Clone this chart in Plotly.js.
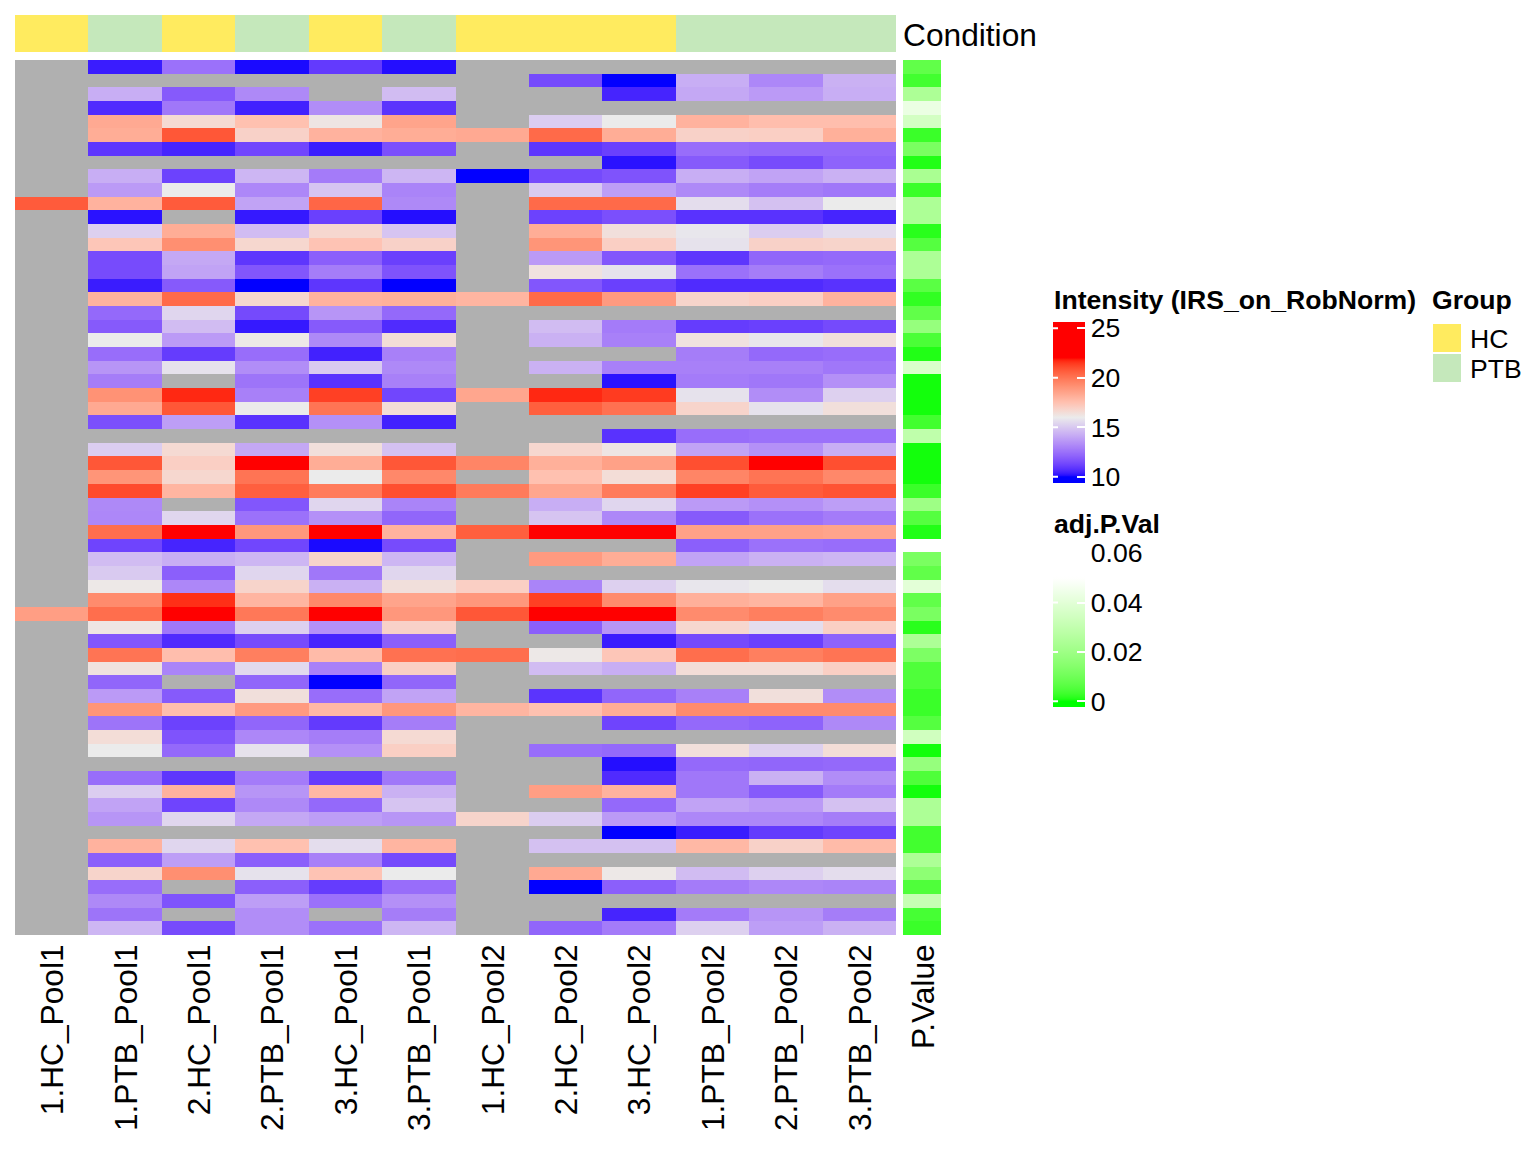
<!DOCTYPE html>
<html>
<head>
<meta charset="utf-8">
<script src="https://cdn.plot.ly/plotly-3.0.1.min.js"></script>
<style>html,body{margin:0;padding:0;background:#fff}</style>
</head>
<body>
<div id="chart" style="width:1536px;height:1152px"></div>
<script>
const N = null;
const samples = ['1.HC_Pool1','1.PTB_Pool1','2.HC_Pool1','2.PTB_Pool1','3.HC_Pool1','3.PTB_Pool1','1.HC_Pool2','2.HC_Pool2','3.HC_Pool2','1.PTB_Pool2','2.PTB_Pool2','3.PTB_Pool2'];
const groupCodes = [0,1,0,1,0,1,0,0,0,1,1,1];
const groupNames = ['HC','PTB'];
const groupColors = ['#FFEB5F','#C5E8BB'];
const intensity = [
[N,10.35,12.5,10.1,11,10.15,N,N,N,N,N,N],
[N,N,N,N,N,N,N,11.4,10,14.25,13.15,14.35],
[N,14.25,11.85,13.2,N,14.65,N,N,10.5,14.1,13.7,14.25],
[N,10.65,12.7,10.45,13.3,10.85,N,N,N,N,N,N],
[N,18.3,16.6,17.5,16.2,18.5,N,15.15,16,18,17.6,17.6],
[N,18.2,20.8,16.9,18,18.2,18.3,20.3,18.2,16.9,17,18.1],
[N,10.9,10.5,11.3,10.35,11.55,N,10.9,11.15,12.4,12.3,12.3],
[N,N,N,N,N,N,N,N,10.2,11.85,11.45,12.1],
[N,14.25,11.2,14.5,12.8,14.5,10,11.4,11.65,14.25,13.95,14.35],
[N,13.7,16,13.15,14.9,13.05,N,15.05,13.8,13.2,12.85,12.7],
[20.7,18,20.7,13.95,20.4,13.2,N,20.3,20.3,15.6,14.8,16],
[N,10.2,N,10.3,11.15,10.15,N,11.2,11.55,10.8,10.8,10.5],
[N,15.25,18.2,14.65,16.7,14.9,N,18.2,16.4,15.85,15.15,15.6],
[N,17.3,19.2,16.7,17.4,16.9,N,19,17,15.75,16.9,16.8],
[N,11.45,14.1,10.9,12,11.15,N,13.7,11.75,10.9,12.2,12.3],
[N,11.45,13.95,11.75,12.85,11.65,N,16.3,15.75,12.5,12.85,12.5],
[N,10.35,11.85,10,10.9,10,N,11.75,11.15,10.65,10.65,10.8],
[N,18,20.3,16.7,18,18.1,17.9,20.3,18.8,16.8,17,18],
[N,12.3,15.4,11.4,13.55,12.3,N,N,N,N,N,N],
[N,11.85,14.65,10.3,11.85,10.65,N,14.65,12.8,11.05,11.15,11.4],
[N,16,13.7,16.1,13.2,16.5,N,14.35,12.95,16.3,15.85,16.4],
[N,12.4,11.05,12.4,10.45,12.95,N,N,N,12.85,12.3,12.4],
[N,13.55,15.75,13.3,15.05,13.2,N,14.35,12.95,12.95,12.95,12.7],
[N,12.85,N,12.6,10.8,12.95,N,N,10.2,12.8,12.7,13.4],
[N,19.1,21.7,12.95,21.3,11.3,18.4,21.7,21.4,15.75,13.3,15.25],
[N,18.3,20.8,16,20,16.5,N,20.6,20.1,16.8,15.75,16.4],
[N,11.55,13.8,10.8,13.4,10.45,N,N,N,N,N,N],
[N,N,N,N,N,N,N,N,10.8,12.4,12.5,12.5],
[N,15.15,16.6,14.1,16.4,14.8,N,16.7,16.2,13.95,13.4,14.25],
[N,20.8,17,23,18.2,20.8,19.5,18.1,18.6,21,23,21],
[N,19,16.7,20,16,19.4,N,17.5,16.5,19.5,20,19.4],
[N,21.1,17.9,20.6,19.8,21,19.8,18.4,19.8,21.3,20.7,20.9],
[N,13.2,N,11.75,15.4,13.05,N,14.25,15.4,13.7,13.4,13.8],
[N,13.15,15.4,12.5,13.4,12.2,N,14.9,13.15,11.85,12.5,12.8],
[N,20.2,23,18.9,23,18,20.6,23,23,18.6,18.6,18.5],
[N,11.25,10.5,11.3,10.1,11.45,N,N,N,12,12.5,12.4],
[N,14.65,14.25,14.5,16.8,14.5,N,18.8,18.2,13.95,14.35,14.5],
[N,15.05,12,15.4,12.7,15.4,N,N,N,N,N,N],
[N,16.1,13.15,16.8,14.35,16.4,17,13.05,15.25,15.85,16,15.6],
[N,19.3,21.6,17.9,19.4,18.5,18.9,21.3,19.3,18.1,17.9,18.6],
[18.7,20.2,23,19.9,23,18.9,20.8,23,23,19.3,19.7,19.3],
[N,16.2,12.7,15.25,13.4,16.9,N,12,13.55,16.7,15.6,17],
[N,11.75,10.65,11.45,10.5,12,N,N,10.35,11.4,11.15,12.1],
[N,20,17.6,19.7,17.7,20.1,20.2,16.1,17.3,20.2,19.7,20],
[N,16.3,13.05,15.5,12.95,17,N,14.65,14.25,16.5,16.5,17],
[N,12.2,N,12.2,10,12.2,N,N,N,N,N,N],
[N,13.7,11.85,16.4,12.4,13.95,N,10.85,12.2,12.95,16.4,13.3],
[N,19,17.6,18.8,17.8,18.9,17.9,17.5,18.2,19.3,19.3,19.3],
[N,12.6,11.2,12.2,11,12.85,N,N,11.25,12.3,12.1,13.2],
[N,16.5,11.65,13.15,12.85,16.6,N,N,N,N,N,N],
[N,16,12.3,15.75,13.4,17,N,12.4,12.3,16.4,15.25,16.5],
[N,N,N,N,N,N,N,N,10.15,12.3,12.2,12.3],
[N,12.4,10.9,12.8,11.05,12.7,N,N,10.65,12.7,14.35,13.3],
[N,15.15,18,13.55,17.8,14.35,N,18.7,18,12.7,11.85,12.8],
[N,13.95,11.25,13.2,12.3,14.9,N,N,12.3,13.95,13.7,14.8],
[N,13.55,15.4,14.1,13.8,13.55,16.8,15.15,13.7,13.15,13.15,12.85],
[N,N,N,N,N,N,N,N,10,10.35,11,11.25],
[N,18,15.4,17.5,15.6,17.9,N,14.8,14.8,17.8,16.9,17.7],
[N,12,13.8,12,12.95,11.4,N,N,N,N,N,N],
[N,16.8,19.2,15.75,17.4,16,N,18.3,16.1,14.65,15.25,15.6],
[N,12.4,N,12,11.05,12.4,N,10,12,12.8,13.15,13.05],
[N,13.2,11.65,13.8,12.5,13.4,N,N,N,N,N,N],
[N,12.6,N,13.3,N,12.85,N,N,10.5,12.8,13.55,12.85],
[N,14.5,11.45,13.3,12.5,14.5,N,12.2,12.8,15.25,13.8,14.35]
];
const adjP = [.0075,.0035,.024,.043,.035,.0028,.012,.001,.023,.0028,.024,.024,.0015,.0058,.024,.024,
.0065,.002,.0075,.018,.0045,.001,.037,.0005,.0005,.0005,.0035,.029,.0005,.0005,.0005,.0028,
.02,.0058,.001,N,.012,.0075,.04,.0075,.012,.0015,.024,.0125,.005,.005,.0028,.0028,
.0058,.034,.0005,.018,.005,.0005,.024,.024,.0035,.0035,.024,.016,.005,.031,.004,.0028];
const intensityTicks = [10,15,20,25];
const pTicks = [0,0.02,0.04,0.06];
const pTickText = ['0','0.02','0.04','0.06'];

// Lab interpolation for colour ramps
function srgb2lin(c){c/=255;return c<=.04045?c/12.92:Math.pow((c+.055)/1.055,2.4);}
function lin2srgb(c){c=Math.max(0,Math.min(1,c));return Math.round(255*(c<=.0031308?12.92*c:1.055*Math.pow(c,1/2.4)-.055));}
const Xn=.95047,Zn=1.08883;
function f(t){return t>.008856?Math.cbrt(t):7.787*t+16/116;}
function fi(t){return t>.2069?t*t*t:(t-16/116)/7.787;}
function rgb2lab(c){const r=srgb2lin(c[0]),g=srgb2lin(c[1]),b=srgb2lin(c[2]);
 const x=.4124564*r+.3575761*g+.1804375*b,y=.2126729*r+.7151522*g+.072175*b,z=.0193339*r+.119192*g+.9503041*b;
 return [116*f(y)-16,500*(f(x/Xn)-f(y)),200*(f(y)-f(z/Zn))];}
function lab2rgb(l){const fy=(l[0]+16)/116,fx=fy+l[1]/500,fz=fy-l[2]/200;
 const x=Xn*fi(fx),y=fi(fy),z=Zn*fi(fz);
 return [lin2srgb(3.2404542*x-1.5371385*y-.4985314*z),lin2srgb(-.969266*x+1.8760108*y+.041556*z),lin2srgb(.0556434*x-.2040259*y+1.0572252*z)];}
function ramp(breaks,cols,zmin,zmax,n){
 const labs=cols.map(rgb2lab),out=[];
 for(let i=0;i<=n;i++){
  const v=zmin+(zmax-zmin)*i/n;let k=0;
  const vv=Math.max(breaks[0],Math.min(breaks[breaks.length-1],v));
  while(k<breaks.length-2&&vv>breaks[k+1])k++;
  const t=(vv-breaks[k])/(breaks[k+1]-breaks[k]);
  const L=labs[k].map((a,j)=>a+(labs[k+1][j]-a)*t);
  const c=lab2rgb(L);out.push([i/n,`rgb(${c[0]},${c[1]},${c[2]})`]);
 }
 return out;
}
const W=1536,H=1152;
const px=x=>x/W, py=y=>1-y/H;
const iMin=9.38,iMax=25.62,pMin=-0.0023,pMax=0.0625;
const iScale=ramp([10,16,22],[[0,0,255],[235,235,235],[255,0,0]],iMin,iMax,130);
const pScale=ramp([0,0.05],[[0,255,0],[255,255,255]],pMin,pMax,60);
const font='"Liberation Sans", Arial, Helvetica, sans-serif';
const labelFont={family:font,size:31.7,color:'#000'};
const legFont={family:font,size:26.6,color:'#000'};
const iBar={top:322,bottom:483},pBar={top:547,bottom:707};

const traces=[
 {type:'heatmap',xaxis:'x',yaxis:'y',z:intensity,zmin:iMin,zmax:iMax,colorscale:iScale,hoverongaps:false,xgap:0,ygap:0,
  colorbar:{x:px(1053),xanchor:'left',xpad:0,ypad:0,y:py(iBar.top),yanchor:'top',len:iBar.bottom-iBar.top,lenmode:'pixels',thickness:32,thicknessmode:'pixels',
   outlinewidth:0,borderwidth:0,tickmode:'array',tickvals:intensityTicks,ticktext:intensityTicks.map(String),ticks:'inside',ticklen:8,tickwidth:2,tickcolor:'#fff',tickfont:legFont}},
 {type:'heatmap',xaxis:'x2',yaxis:'y2',z:adjP.map(v=>[v]),zmin:pMin,zmax:pMax,colorscale:pScale,hoverongaps:false,
  colorbar:{x:px(1053),xanchor:'left',xpad:0,ypad:0,y:py(pBar.top),yanchor:'top',len:pBar.bottom-pBar.top,lenmode:'pixels',thickness:32,thicknessmode:'pixels',
   outlinewidth:0,borderwidth:0,tickmode:'array',tickvals:pTicks,ticktext:pTickText,ticks:'inside',ticklen:8,tickwidth:2,tickcolor:'#fff',tickfont:legFont}},
 {type:'heatmap',xaxis:'x3',yaxis:'y3',z:[groupCodes],zmin:0,zmax:1,colorscale:[[0,groupColors[0]],[0.5,groupColors[0]],[0.5,groupColors[1]],[1,groupColors[1]]],showscale:false}
];
const hidden={showgrid:false,zeroline:false,showline:false,ticks:''};
const iScalePx=v=>iBar.bottom-(v-iMin)/(iMax-iMin)*(iBar.bottom-iBar.top);
const pScalePx=v=>pBar.bottom-(v-pMin)/(pMax-pMin)*(pBar.bottom-pBar.top);
const leftTick=y=>({text:' ',xref:'paper',yref:'paper',x:px(1053),y:py(y),ax:8,ay:0,axref:'pixel',ayref:'pixel',showarrow:true,arrowhead:0,arrowwidth:2,arrowcolor:'#fff',standoff:0,startstandoff:0});
const swatch=(i,top)=>({type:'rect',xref:'paper',yref:'paper',x0:px(1433),x1:px(1461),y0:py(top),y1:py(top+28),fillcolor:groupColors[i],line:{width:0}});
const note=(text,x,y,fnt)=>({text,xref:'paper',yref:'paper',x:px(x),y:py(y),xanchor:'left',yanchor:'middle',showarrow:false,font:fnt});
const layout={
 width:W,height:H,margin:{l:0,r:0,t:0,b:0,pad:0},paper_bgcolor:'#fff',plot_bgcolor:'rgba(0,0,0,0)',font:{family:font,color:'#000'},showlegend:false,
 xaxis:{...hidden,domain:[px(15),px(896)],anchor:'y',type:'linear',range:[-0.5,11.5],tickmode:'array',tickvals:samples.map((s,i)=>i+0.015),ticktext:samples,tickangle:-90,tickfont:labelFont,ticklabelstandoff:2},
 yaxis:{...hidden,domain:[py(935),py(60)],anchor:'x',range:[63.5,-0.5],showticklabels:false},
 xaxis2:{...hidden,domain:[px(903),px(941)],anchor:'y2',range:[-0.5,0.5],tickmode:'array',tickvals:[0.04],ticktext:['P.Value'],tickangle:-90,tickfont:labelFont,ticklabelstandoff:2},
 yaxis2:{...hidden,domain:[py(935),py(60)],anchor:'x2',range:[63.5,-0.5],showticklabels:false},
 xaxis3:{...hidden,domain:[px(15),px(896)],anchor:'y3',range:[-0.5,11.5],showticklabels:false},
 yaxis3:{...hidden,domain:[py(52),py(15)],anchor:'x3',range:[-0.5,0.5],showticklabels:false},
 shapes:[
  {type:'rect',xref:'x domain',yref:'y domain',x0:0,x1:1,y0:0,y1:1,fillcolor:'#B0B0B0',line:{width:0},layer:'below'},
  swatch(0,324),swatch(1,354)
 ],
 annotations:[
  note('Condition',901,35,labelFont),
  note('<b>Intensity (IRS_on_RobNorm)</b>',1052,300,legFont),
  note('<b>Group</b>',1430,300,legFont),
  note('<b>adj.P.Val</b>',1052,524,legFont),
  note(groupNames[0],1468,339,legFont),
  note(groupNames[1],1468,369,legFont),
  ...intensityTicks.map(v=>leftTick(iScalePx(v))),
  ...pTicks.slice(0,3).map(v=>leftTick(pScalePx(v)))
 ]
};
Plotly.newPlot('chart',traces,layout,{displayModeBar:false,staticPlot:true});
</script>
</body>
</html>
